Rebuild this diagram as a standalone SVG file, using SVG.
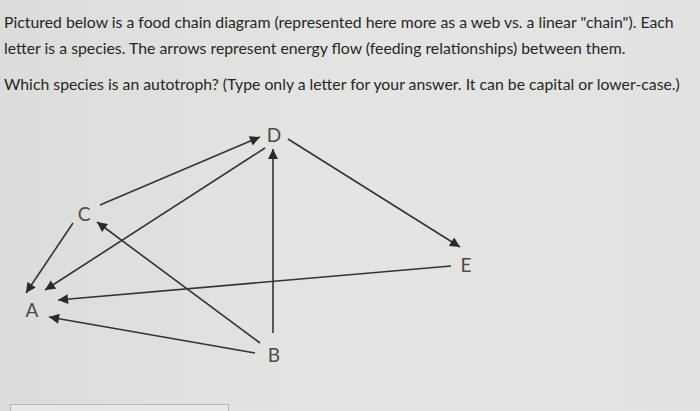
<svg xmlns="http://www.w3.org/2000/svg" width="700" height="411" viewBox="0 0 700 411">
<defs>
<linearGradient id="bg" x1="0" y1="0" x2="1" y2="0">
<stop offset="0" stop-color="#dcdddb"/>
<stop offset="0.5" stop-color="#e4e5e3"/>
<stop offset="1" stop-color="#e2e3e1"/>
</linearGradient>
<marker id="ah" viewBox="0 0 10 10" refX="10" refY="5" markerWidth="11" markerHeight="10" markerUnits="userSpaceOnUse" orient="auto">
<path d="M0,0 L10,5 L0,10 z" fill="#2a2a2a"/>
</marker>
<style>
.q{font-family:Lato,"Open Sans","Liberation Sans",sans-serif;font-size:15.8px;fill:#262626}
.lb{font-family:Lato,"Open Sans","Liberation Sans",sans-serif;font-size:19px;fill:#4a4a4a}
.e{stroke:#333;stroke-width:1.6;fill:none;marker-end:url(#ah)}
</style>
</defs>
<rect width="700" height="411" fill="url(#bg)"/>
<text class="q" x="4" y="28">Pictured below is a food chain diagram (represented here more as a web vs. a linear "chain"). Each</text>
<text class="q" x="4" y="54">letter is a species. The arrows represent energy flow (feeding relationships) between them.</text>
<text class="q" x="4" y="90">Which species is an autotroph? (Type only a letter for your answer. It can be capital or lower-case.)</text>
<g id="connectors">
<line class="e" x1="100" y1="205" x2="260" y2="137"/>
<line class="e" x1="265" y1="148" x2="45" y2="290"/>
<line class="e" x1="73" y1="223" x2="26" y2="293"/>
<line class="e" x1="260" y1="343" x2="97" y2="222"/>
<line class="e" x1="273" y1="333" x2="273" y2="149"/>
<line class="e" x1="451" y1="266" x2="58" y2="300"/>
<line class="e" x1="255" y1="353" x2="49" y2="317"/>
<line class="e" x1="288" y1="139" x2="460" y2="247"/>
</g>
<g id="node-D"><text class="lb" x="274" y="142" text-anchor="middle">D</text></g>
<g id="node-C"><text class="lb" x="84" y="221" text-anchor="middle">C</text></g>
<g id="node-A"><text class="lb" x="32" y="317" text-anchor="middle">A</text></g>
<g id="node-B"><text class="lb" x="274" y="362" text-anchor="middle">B</text></g>
<g id="node-E"><text class="lb" x="466" y="272" text-anchor="middle">E</text></g>
<rect x="10.5" y="404.5" width="218" height="10" fill="#e8e9e7" stroke="#b5b6b4" stroke-width="1"/>
</svg>
